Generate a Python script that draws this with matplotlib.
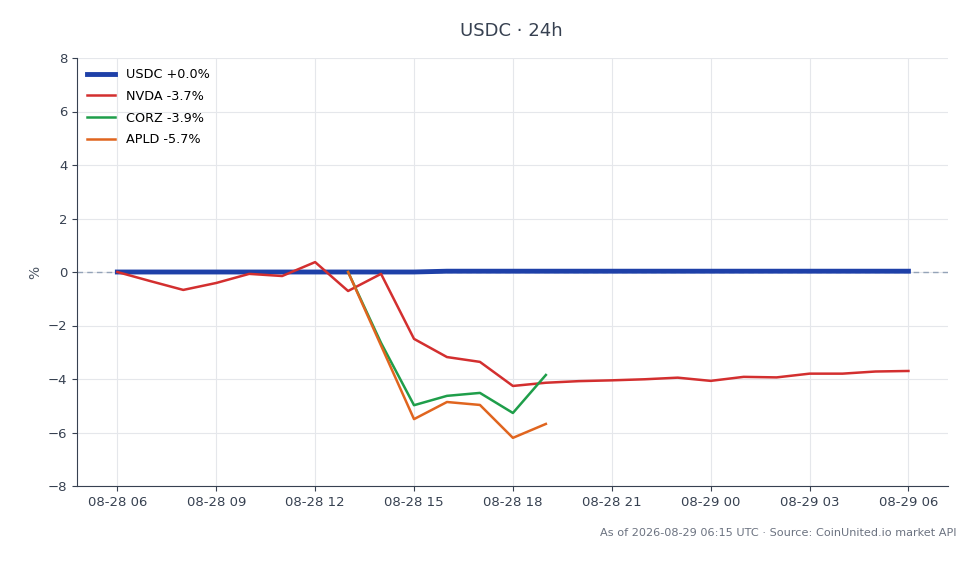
import matplotlib
matplotlib.use("Agg")
import matplotlib.pyplot as plt
import matplotlib.dates as mdates
import numpy as np
import pandas as pd

times = pd.date_range("2026-08-28 06:00", "2026-08-29 06:00", freq="h")

usdc = [0.0, 0.0, 0.0, 0.0, 0.0, 0.0, 0.0, 0.0, 0.0, 0.0, 0.03, 0.03, 0.03,
        0.03, 0.03, 0.03, 0.03, 0.03, 0.03, 0.03, 0.03, 0.03, 0.03, 0.03, 0.03]
nvda = [0.0, -0.34, -0.67, -0.41, -0.07, -0.15, 0.37, -0.71, -0.07, -2.5,
        -3.18, -3.36, -4.26, -4.14, -4.08, -4.05, -4.01, -3.95, -4.07, -3.92,
        -3.94, -3.8, -3.8, -3.72, -3.7]
corz_times = times[7:14]
corz = [0.0, -2.65, -4.98, -4.63, -4.52, -5.27, -3.85]
apld_times = times[7:14]
apld = [0.0, -2.75, -5.5, -4.86, -4.97, -6.2, -5.68]

labels = ["USDC +0.0%", "NVDA -3.7%", "CORZ -3.9%", "APLD -5.7%"]
colors = ["#1e40a8", "#d32f2f", "#1f9e4a", "#e0651f"]

fig = plt.figure(figsize=(9.8, 5.64), dpi=100)
ax = fig.add_axes([77/980, 1-486/564, (948-77)/980, (486-58)/564])

ax.axhline(0, color="#94a3b8", lw=1, ls=(0, (4, 3)), zorder=1)
ax.plot(times, usdc, color=colors[0], lw=3.5, label=labels[0], zorder=3)
ax.plot(times, nvda, color=colors[1], lw=1.8, label=labels[1], zorder=4)
ax.plot(corz_times, corz, color=colors[2], lw=1.8, label=labels[2], zorder=4)
ax.plot(apld_times, apld, color=colors[3], lw=1.8, label=labels[3], zorder=4)

ax.set_ylim(-8, 8)
ax.set_yticks(np.arange(-8, 9, 2))
span = times[-1] - times[0]
ax.set_xlim(times[0] - span * 0.051, times[-1] + span * 0.05)
ax.xaxis.set_major_locator(mdates.HourLocator(byhour=range(0, 24, 3)))
ax.xaxis.set_major_formatter(mdates.DateFormatter("%m-%d %H"))

ax.grid(True, color="#e5e7eb", lw=0.8)
ax.set_axisbelow(True)
for s in ["top", "right"]:
    ax.spines[s].set_visible(False)
for s in ["left", "bottom"]:
    ax.spines[s].set_color("#374151")
ax.tick_params(colors="#374151", labelsize=9.5, labelcolor="#374151")
ax.set_ylabel("%", color="#4b5563", fontsize=10)

leg = ax.legend(loc="upper left", frameon=False, fontsize=9.2, handlelength=2.2,
                labelspacing=0.68, borderaxespad=0.4)

fig.text(0.522, 1 - 31/564, "USDC · 24h", ha="center", va="center",
         fontsize=13, color="#374151")
fig.text(956/980, 1 - 533/564, "As of 2026-08-29 06:15 UTC · Source: CoinUnited.io market API",
         ha="right", va="center", fontsize=8.1, color="#6b7280")

fig.savefig("out.png", dpi=100)
